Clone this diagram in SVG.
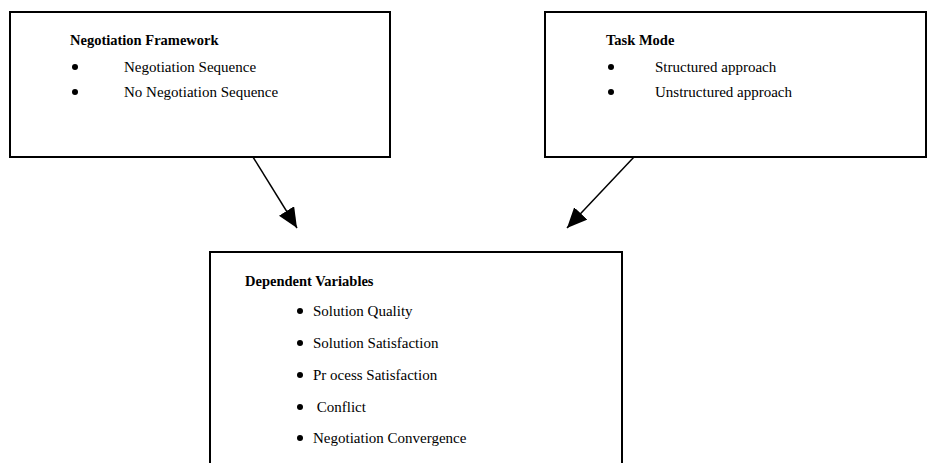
<svg xmlns="http://www.w3.org/2000/svg" width="936" height="463" viewBox="0 0 936 463">
  <style>
    .box { fill: #ffffff; stroke: #000000; stroke-width: 2; }
    .title { font-family: "Liberation Serif", "Times New Roman", serif; font-size: 14.5px; font-weight: bold; fill: #000000; }
    .item { font-family: "Liberation Serif", "Times New Roman", serif; font-size: 15px; fill: #000000; }
    .dot { fill: #000000; }
    .edge { stroke: #000000; stroke-width: 1.5; fill: none; marker-end: url(#head); }
  </style>
  <defs>
    <marker id="head" viewBox="0 0 20 18" refX="20" refY="9" markerWidth="20" markerHeight="18" markerUnits="userSpaceOnUse" orient="auto">
      <path d="M0,0 L20,9 L0,18 Z" fill="#000000"/>
    </marker>
  </defs>
  <rect width="936" height="463" fill="#ffffff"/>

  <g id="negotiation-framework">
    <rect class="box" x="10" y="12" width="380" height="145"/>
    <text class="title" x="70" y="45">Negotiation Framework</text>
    <circle class="dot" cx="75" cy="67" r="3"/>
    <text class="item" x="124" y="72">Negotiation Sequence</text>
    <circle class="dot" cx="75" cy="92" r="3"/>
    <text class="item" x="124" y="97">No Negotiation Sequence</text>
  </g>

  <g id="task-mode">
    <rect class="box" x="545" y="12" width="381" height="145"/>
    <text class="title" x="606" y="45">Task Mode</text>
    <circle class="dot" cx="611" cy="67" r="3"/>
    <text class="item" x="655" y="72">Structured approach</text>
    <circle class="dot" cx="611" cy="92" r="3"/>
    <text class="item" x="655" y="97">Unstructured approach</text>
  </g>

  <g id="dependent-variables">
    <rect class="box" x="210" y="252" width="412" height="230"/>
    <text class="title" x="245" y="286">Dependent Variables</text>
    <circle class="dot" cx="300" cy="311" r="3"/>
    <text class="item" x="313" y="316">Solution Quality</text>
    <circle class="dot" cx="300" cy="343" r="3"/>
    <text class="item" x="313" y="348">Solution Satisfaction</text>
    <circle class="dot" cx="300" cy="375" r="3"/>
    <text class="item" x="313" y="380">Pr ocess Satisfaction</text>
    <circle class="dot" cx="300" cy="407" r="3"/>
    <text class="item" x="313" y="412" xml:space="preserve"> Conflict</text>
    <circle class="dot" cx="300" cy="438" r="3"/>
    <text class="item" x="313" y="443">Negotiation Convergence</text>
  </g>

  <g id="connectors">
    <line class="edge" x1="253" y1="157" x2="297" y2="228"/>
    <line class="edge" x1="634" y1="157" x2="567" y2="228"/>
  </g>
</svg>
